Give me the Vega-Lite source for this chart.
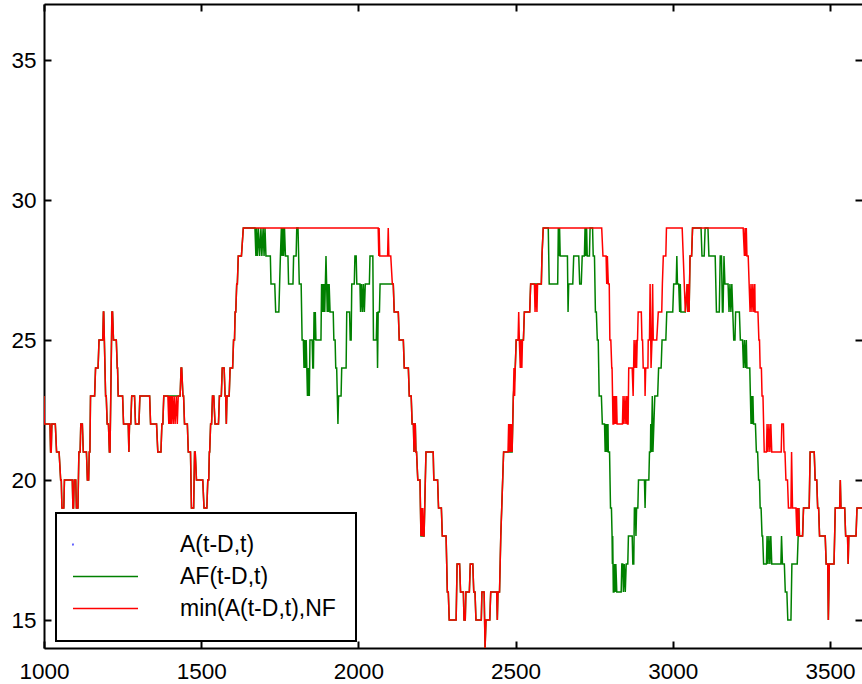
{
  "$schema": "https://vega.github.io/schema/vega-lite/v6.json",
  "width": 818,
  "height": 644,
  "autosize": {"type": "none"},
  "padding": {"left": 44, "top": 4, "right": 0, "bottom": 36},
  "config": {
    "view": {"stroke": null},
    "axis": {
      "domainColor": "black", "domainWidth": 2, "tickColor": "black", "tickWidth": 2,
      "labelColor": "black", "labelFont": "Liberation Sans", "labelFontSize": 22.5,
      "labelFlush": false, "grid": false, "title": null
    }
  },
  "datasets": {
    "red": [
{"t":1000,"v":23},{"t":1001,"v":22},{"t":1019,"v":22},{"t":1021,"v":21},{"t":1023,"v":21},{"t":1025,"v":22},{"t":1036,"v":22},{"t":1040,"v":21},{"t":1048,"v":21},{"t":1053,"v":20},{"t":1055,"v":20},{"t":1057,"v":19},{"t":1063,"v":19},{"t":1065,"v":20},{"t":1090,"v":20},{"t":1092,"v":19},{"t":1094,"v":19},{"t":1096,"v":20},{"t":1101,"v":20},{"t":1103,"v":19},{"t":1108,"v":19},{"t":1111,"v":21},{"t":1115,"v":21},{"t":1117,"v":22},{"t":1122,"v":22},{"t":1125,"v":21},{"t":1135,"v":21},{"t":1138,"v":20},{"t":1142,"v":20},{"t":1144,"v":21},{"t":1146,"v":21},{"t":1148,"v":23},{"t":1161,"v":23},{"t":1164,"v":24},{"t":1172,"v":24},{"t":1175,"v":25},{"t":1187,"v":25},{"t":1189,"v":26},{"t":1190,"v":26},{"t":1196,"v":23},{"t":1198,"v":23},{"t":1201,"v":22},{"t":1205,"v":22},{"t":1208,"v":21},{"t":1210,"v":21},{"t":1216,"v":26},{"t":1218,"v":26},{"t":1221,"v":25},{"t":1230,"v":25},{"t":1233,"v":24},{"t":1234,"v":24},{"t":1236,"v":23},{"t":1250,"v":23},{"t":1253,"v":22},{"t":1268,"v":22},{"t":1270,"v":21},{"t":1272,"v":22},{"t":1276,"v":22},{"t":1279,"v":23},{"t":1288,"v":23},{"t":1291,"v":22},{"t":1302,"v":22},{"t":1305,"v":23},{"t":1336,"v":23},{"t":1339,"v":22},{"t":1358,"v":22},{"t":1362,"v":21},{"t":1372,"v":21},{"t":1375,"v":22},{"t":1378,"v":22},{"t":1381,"v":23},{"t":1394,"v":23},{"t":1397,"v":22},{"t":1399,"v":23},{"t":1401,"v":22},{"t":1403,"v":23},{"t":1405,"v":22},{"t":1408,"v":23},{"t":1411,"v":22},{"t":1414,"v":23},{"t":1417,"v":22},{"t":1421,"v":23},{"t":1424,"v":22},{"t":1427,"v":23},{"t":1433,"v":23},{"t":1436,"v":24},{"t":1438,"v":24},{"t":1442,"v":23},{"t":1444,"v":23},{"t":1447,"v":22},{"t":1456,"v":22},{"t":1459,"v":21},{"t":1466,"v":21},{"t":1469,"v":19},{"t":1476,"v":19},{"t":1479,"v":21},{"t":1481,"v":21},{"t":1485,"v":20},{"t":1505,"v":20},{"t":1509,"v":19},{"t":1518,"v":19},{"t":1521,"v":20},{"t":1524,"v":20},{"t":1526,"v":21},{"t":1527,"v":21},{"t":1530,"v":22},{"t":1533,"v":22},{"t":1536,"v":23},{"t":1540,"v":23},{"t":1544,"v":22},{"t":1555,"v":22},{"t":1558,"v":23},{"t":1564,"v":23},{"t":1567,"v":24},{"t":1573,"v":24},{"t":1576,"v":23},{"t":1578,"v":23},{"t":1580,"v":22},{"t":1582,"v":23},{"t":1589,"v":23},{"t":1592,"v":24},{"t":1600,"v":24},{"t":1603,"v":25},{"t":1606,"v":25},{"t":1608,"v":26},{"t":1610,"v":26},{"t":1613,"v":27},{"t":1615,"v":27},{"t":1618,"v":28},{"t":1628,"v":28},{"t":1634,"v":29},
{"t":2063,"v":29},{"t":2065,"v":28},{"t":2066,"v":29},{"t":2068,"v":28},{"t":2093,"v":28},{"t":2095,"v":29},{"t":2097,"v":28},{"t":2103,"v":28},{"t":2108,"v":27},
{"t":2111,"v":27},{"t":2114,"v":26},{"t":2127,"v":26},{"t":2130,"v":25},{"t":2143,"v":25},{"t":2146,"v":24},{"t":2159,"v":24},{"t":2162,"v":23},{"t":2168,"v":23},{"t":2171,"v":22},{"t":2175,"v":22},{"t":2177,"v":21},{"t":2179,"v":22},{"t":2181,"v":22},{"t":2183,"v":21},{"t":2185,"v":21},{"t":2189,"v":20},{"t":2196,"v":20},{"t":2199,"v":18},{"t":2201,"v":19},{"t":2203,"v":18},{"t":2205,"v":19},{"t":2207,"v":18},{"t":2209,"v":18},{"t":2215,"v":21},{"t":2238,"v":21},{"t":2240,"v":20},{"t":2252,"v":20},{"t":2255,"v":19},{"t":2264,"v":19},{"t":2267,"v":18},{"t":2279,"v":18},{"t":2283,"v":16},{"t":2286,"v":16},{"t":2289,"v":15},{"t":2311,"v":15},{"t":2314,"v":17},{"t":2322,"v":17},{"t":2325,"v":16},{"t":2334,"v":16},{"t":2336,"v":15},{"t":2340,"v":15},{"t":2342,"v":16},{"t":2353,"v":16},{"t":2356,"v":17},{"t":2364,"v":17},{"t":2367,"v":16},{"t":2371,"v":16},{"t":2374,"v":15},{"t":2391,"v":15},{"t":2393,"v":16},{"t":2400,"v":16},{"t":2403,"v":14},{"t":2406,"v":15},{"t":2418,"v":15},{"t":2421,"v":16},{"t":2440,"v":16},{"t":2442,"v":15},{"t":2444,"v":16},{"t":2449,"v":16},{"t":2453,"v":18},{"t":2462,"v":21},{"t":2476,"v":21},{"t":2478,"v":22},{"t":2480,"v":21},{"t":2482,"v":22},{"t":2484,"v":21},{"t":2486,"v":22},{"t":2489,"v":21},{"t":2493,"v":23},{"t":2495,"v":24},{"t":2497,"v":23},{"t":2499,"v":24},{"t":2502,"v":25},{"t":2508,"v":25},{"t":2510,"v":26},{"t":2512,"v":25},{"t":2515,"v":24},{"t":2517,"v":25},{"t":2520,"v":24},{"t":2522,"v":25},{"t":2525,"v":25},{"t":2528,"v":26},{"t":2545,"v":26},{"t":2548,"v":27},{"t":2560,"v":27},{"t":2562,"v":26},{"t":2565,"v":27},{"t":2568,"v":26},{"t":2570,"v":27},{"t":2582,"v":27},{"t":2584,"v":28},{"t":2588,"v":29},
{"t":2774,"v":29},{"t":2778,"v":28},{"t":2788,"v":28},{"t":2790,"v":27},{"t":2792,"v":28},{"t":2795,"v":27},{"t":2798,"v":27},{"t":2800,"v":25},{"t":2803,"v":25},{"t":2806,"v":24},{"t":2807,"v":24},{"t":2810,"v":22},{"t":2812,"v":22},{"t":2813,"v":23},{"t":2815,"v":22},{"t":2817,"v":23},{"t":2819,"v":22},{"t":2821,"v":23},{"t":2823,"v":22},{"t":2840,"v":22},{"t":2842,"v":23},{"t":2845,"v":22},{"t":2848,"v":23},{"t":2851,"v":22},{"t":2854,"v":23},{"t":2856,"v":22},{"t":2858,"v":22},{"t":2860,"v":24},{"t":2871,"v":24},{"t":2874,"v":23},{"t":2877,"v":25},{"t":2880,"v":24},{"t":2883,"v":25},{"t":2885,"v":24},{"t":2887,"v":25},{"t":2888,"v":25},{"t":2890,"v":26},{"t":2900,"v":26},{"t":2902,"v":25},{"t":2904,"v":25},{"t":2906,"v":24},{"t":2911,"v":24},{"t":2912,"v":23},{"t":2914,"v":24},{"t":2921,"v":24},{"t":2922,"v":25},{"t":2926,"v":25},{"t":2928,"v":27},{"t":2931,"v":24},{"t":2934,"v":25},{"t":2936,"v":27},{"t":2938,"v":25},{"t":2949,"v":25},{"t":2954,"v":26},{"t":2965,"v":26},{"t":2967,"v":27},{"t":2970,"v":28},{"t":2978,"v":28},{"t":2980,"v":29},{"t":3030,"v":29},{"t":3040,"v":26},
{"t":3046,"v":27},{"t":3048,"v":26},{"t":3050,"v":27},{"t":3052,"v":26},{"t":3055,"v":28},{"t":3060,"v":28},{"t":3063,"v":29},
{"t":3224,"v":29},{"t":3228,"v":28},{"t":3230,"v":29},{"t":3232,"v":28},{"t":3234,"v":29},{"t":3236,"v":28},{"t":3240,"v":28},{"t":3243,"v":27},{"t":3246,"v":26},{"t":3249,"v":27},{"t":3252,"v":26},{"t":3255,"v":27},{"t":3258,"v":26},{"t":3261,"v":27},{"t":3262,"v":26},{"t":3271,"v":26},{"t":3274,"v":25},{"t":3276,"v":25},{"t":3278,"v":24},{"t":3282,"v":24},{"t":3284,"v":23},{"t":3287,"v":23},{"t":3289,"v":22},{"t":3291,"v":21},{"t":3298,"v":21},{"t":3300,"v":22},{"t":3303,"v":21},{"t":3306,"v":22},{"t":3309,"v":21},{"t":3312,"v":22},{"t":3315,"v":21},{"t":3345,"v":21},{"t":3347,"v":22},{"t":3352,"v":22},{"t":3354,"v":21},{"t":3357,"v":21},{"t":3360,"v":20},{"t":3365,"v":20},{"t":3368,"v":19},{"t":3376,"v":19},{"t":3378,"v":21},{"t":3381,"v":19},{"t":3392,"v":19},{"t":3395,"v":18},{"t":3397,"v":19},{"t":3399,"v":18},
{"t":3401,"v":19},{"t":3403,"v":18},{"t":3413,"v":18},{"t":3416,"v":19},{"t":3434,"v":19},{"t":3437,"v":21},{"t":3450,"v":21},{"t":3453,"v":20},{"t":3458,"v":20},{"t":3461,"v":19},{"t":3464,"v":19},{"t":3467,"v":18},{"t":3485,"v":18},{"t":3488,"v":17},{"t":3493,"v":17},{"t":3495,"v":15},{"t":3498,"v":17},{"t":3513,"v":17},{"t":3517,"v":19},{"t":3531,"v":19},{"t":3533,"v":20},{"t":3535,"v":19},{"t":3547,"v":19},{"t":3550,"v":18},{"t":3556,"v":18},{"t":3558,"v":17},{"t":3560,"v":18},{"t":3583,"v":18},{"t":3586,"v":19},{"t":3605,"v":19}
    ],
    "green": [
{"t":1000,"v":23},{"t":1001,"v":22},{"t":1019,"v":22},{"t":1021,"v":21},{"t":1023,"v":21},{"t":1025,"v":22},{"t":1036,"v":22},{"t":1040,"v":21},{"t":1048,"v":21},{"t":1053,"v":20},{"t":1055,"v":20},{"t":1057,"v":19},{"t":1063,"v":19},{"t":1065,"v":20},{"t":1090,"v":20},{"t":1092,"v":19},{"t":1094,"v":19},{"t":1096,"v":20},{"t":1101,"v":20},{"t":1103,"v":19},{"t":1108,"v":19},{"t":1111,"v":21},{"t":1115,"v":21},{"t":1117,"v":22},{"t":1122,"v":22},{"t":1125,"v":21},{"t":1135,"v":21},{"t":1138,"v":20},{"t":1142,"v":20},{"t":1144,"v":21},{"t":1146,"v":21},{"t":1148,"v":23},{"t":1161,"v":23},{"t":1164,"v":24},{"t":1172,"v":24},{"t":1175,"v":25},{"t":1187,"v":25},{"t":1189,"v":26},{"t":1190,"v":26},{"t":1196,"v":23},{"t":1198,"v":23},{"t":1201,"v":22},{"t":1205,"v":22},{"t":1208,"v":21},{"t":1210,"v":21},{"t":1216,"v":26},{"t":1218,"v":26},{"t":1221,"v":25},{"t":1230,"v":25},{"t":1233,"v":24},{"t":1234,"v":24},{"t":1236,"v":23},{"t":1250,"v":23},{"t":1253,"v":22},{"t":1268,"v":22},{"t":1270,"v":21},{"t":1272,"v":22},{"t":1276,"v":22},{"t":1279,"v":23},{"t":1288,"v":23},{"t":1291,"v":22},{"t":1302,"v":22},{"t":1305,"v":23},{"t":1336,"v":23},{"t":1339,"v":22},{"t":1358,"v":22},{"t":1362,"v":21},{"t":1372,"v":21},{"t":1375,"v":22},{"t":1378,"v":22},{"t":1381,"v":23},{"t":1394,"v":23},{"t":1433,"v":23},{"t":1436,"v":24},{"t":1438,"v":24},{"t":1442,"v":23},{"t":1444,"v":23},{"t":1447,"v":22},{"t":1456,"v":22},{"t":1459,"v":21},{"t":1466,"v":21},{"t":1469,"v":19},{"t":1476,"v":19},{"t":1479,"v":21},{"t":1481,"v":21},{"t":1485,"v":20},{"t":1505,"v":20},{"t":1509,"v":19},{"t":1518,"v":19},{"t":1521,"v":20},{"t":1524,"v":20},{"t":1526,"v":21},{"t":1527,"v":21},{"t":1530,"v":22},{"t":1533,"v":22},{"t":1536,"v":23},{"t":1540,"v":23},{"t":1544,"v":22},{"t":1555,"v":22},{"t":1558,"v":23},{"t":1564,"v":23},{"t":1567,"v":24},{"t":1573,"v":24},{"t":1576,"v":23},{"t":1578,"v":23},{"t":1580,"v":22},{"t":1582,"v":23},{"t":1589,"v":23},{"t":1592,"v":24},{"t":1600,"v":24},{"t":1603,"v":25},{"t":1606,"v":25},{"t":1608,"v":26},{"t":1610,"v":26},{"t":1613,"v":27},{"t":1615,"v":27},{"t":1618,"v":28},{"t":1628,"v":28},{"t":1634,"v":29},
{"t":1671,"v":29},{"t":1674,"v":28},{"t":1676,"v":29},{"t":1679,"v":28},{"t":1682,"v":29},{"t":1686,"v":28},{"t":1690,"v":29},{"t":1693,"v":28},{"t":1697,"v":29},{"t":1700,"v":28},{"t":1703,"v":29},{"t":1706,"v":28},{"t":1720,"v":28},{"t":1722,"v":27},{"t":1734,"v":27},{"t":1737,"v":26},{"t":1747,"v":26},{"t":1752,"v":28},{"t":1755,"v":29},{"t":1757,"v":28},{"t":1760,"v":29},{"t":1762,"v":28},{"t":1765,"v":29},{"t":1768,"v":28},{"t":1776,"v":28},{"t":1778,"v":27},{"t":1792,"v":27},{"t":1794,"v":28},{"t":1802,"v":28},{"t":1804,"v":29},{"t":1808,"v":29},{"t":1810,"v":28},{"t":1812,"v":27},{"t":1818,"v":27},{"t":1821,"v":25},{"t":1825,"v":25},{"t":1827,"v":24},{"t":1829,"v":25},{"t":1831,"v":24},{"t":1834,"v":25},{"t":1836,"v":24},{"t":1838,"v":23},{"t":1839,"v":24},{"t":1840,"v":23},{"t":1841,"v":24},{"t":1842,"v":23},{"t":1843,"v":24},{"t":1844,"v":23},{"t":1846,"v":25},{"t":1853,"v":25},{"t":1855,"v":24},{"t":1857,"v":24},{"t":1859,"v":26},{"t":1861,"v":25},{"t":1863,"v":26},{"t":1865,"v":25},{"t":1867,"v":25},{"t":1881,"v":25},{"t":1883,"v":27},{"t":1885,"v":26},{"t":1887,"v":27},{"t":1889,"v":26},{"t":1891,"v":27},{"t":1893,"v":26},{"t":1895,"v":27},{"t":1897,"v":28},{"t":1899,"v":27},{"t":1901,"v":26},{"t":1903,"v":27},{"t":1905,"v":26},{"t":1907,"v":27},{"t":1910,"v":26},{"t":1920,"v":26},{"t":1922,"v":25},{"t":1926,"v":25},{"t":1928,"v":24},{"t":1931,"v":24},{"t":1933,"v":23},{"t":1935,"v":22},{"t":1937,"v":23},{"t":1945,"v":23},{"t":1947,"v":24},{"t":1961,"v":24},{"t":1963,"v":26},{"t":1972,"v":26},{"t":1974,"v":25},{"t":1977,"v":25},{"t":1979,"v":27},{"t":1987,"v":27},{"t":1989,"v":28},{"t":1993,"v":28},{"t":1995,"v":27},{"t":2005,"v":27},{"t":2007,"v":26},{"t":2010,"v":27},{"t":2013,"v":26},{"t":2016,"v":27},{"t":2019,"v":26},{"t":2022,"v":27},{"t":2035,"v":27},{"t":2037,"v":28},{"t":2046,"v":28},{"t":2048,"v":25},{"t":2057,"v":25},{"t":2059,"v":26},{"t":2061,"v":24},{"t":2063,"v":26},{"t":2067,"v":26},{"t":2069,"v":27},{"t":2106,"v":27},{"t":2108,"v":27},
{"t":2111,"v":27},{"t":2114,"v":26},{"t":2127,"v":26},{"t":2130,"v":25},{"t":2143,"v":25},{"t":2146,"v":24},{"t":2159,"v":24},{"t":2162,"v":23},{"t":2168,"v":23},{"t":2171,"v":22},{"t":2175,"v":22},{"t":2177,"v":21},{"t":2179,"v":22},{"t":2181,"v":22},{"t":2183,"v":21},{"t":2185,"v":21},{"t":2189,"v":20},{"t":2196,"v":20},{"t":2199,"v":18},{"t":2209,"v":18},{"t":2215,"v":21},{"t":2238,"v":21},{"t":2240,"v":20},{"t":2252,"v":20},{"t":2255,"v":19},{"t":2264,"v":19},{"t":2267,"v":18},{"t":2279,"v":18},{"t":2283,"v":16},{"t":2286,"v":16},{"t":2289,"v":15},{"t":2311,"v":15},{"t":2314,"v":17},{"t":2322,"v":17},{"t":2325,"v":16},{"t":2334,"v":16},{"t":2336,"v":15},{"t":2340,"v":15},{"t":2342,"v":16},{"t":2353,"v":16},{"t":2356,"v":17},{"t":2364,"v":17},{"t":2367,"v":16},{"t":2371,"v":16},{"t":2374,"v":15},{"t":2391,"v":15},{"t":2393,"v":16},{"t":2400,"v":16},{"t":2403,"v":14},{"t":2406,"v":15},{"t":2418,"v":15},{"t":2421,"v":16},{"t":2440,"v":16},{"t":2442,"v":15},{"t":2444,"v":16},{"t":2449,"v":16},{"t":2453,"v":18},{"t":2462,"v":21},{"t":2476,"v":21},{"t":2489,"v":21},{"t":2493,"v":23},{"t":2499,"v":24},{"t":2502,"v":25},{"t":2508,"v":25},{"t":2525,"v":25},{"t":2528,"v":26},{"t":2545,"v":26},{"t":2548,"v":27},{"t":2582,"v":27},{"t":2584,"v":28},{"t":2588,"v":29},{"t":2604,"v":29},
{"t":2607,"v":27},{"t":2634,"v":27},{"t":2636,"v":29},{"t":2638,"v":28},{"t":2640,"v":29},{"t":2642,"v":28},{"t":2665,"v":28},{"t":2667,"v":26},{"t":2669,"v":27},{"t":2682,"v":27},{"t":2685,"v":28},{"t":2701,"v":28},{"t":2704,"v":27},{"t":2709,"v":27},{"t":2712,"v":28},{"t":2719,"v":28},{"t":2721,"v":29},{"t":2723,"v":28},{"t":2726,"v":29},{"t":2728,"v":28},{"t":2735,"v":28},{"t":2737,"v":29},{"t":2745,"v":29},{"t":2747,"v":28},{"t":2751,"v":28},{"t":2754,"v":26},{"t":2757,"v":26},{"t":2760,"v":25},{"t":2763,"v":25},{"t":2766,"v":23},{"t":2773,"v":23},{"t":2776,"v":22},{"t":2783,"v":22},{"t":2785,"v":21},{"t":2786,"v":22},{"t":2788,"v":21},{"t":2790,"v":22},{"t":2792,"v":21},{"t":2794,"v":22},{"t":2795,"v":21},{"t":2799,"v":21},{"t":2802,"v":19},{"t":2805,"v":19},{"t":2807,"v":18},{"t":2808,"v":17},{"t":2809,"v":18},{"t":2811,"v":16},{"t":2813,"v":16},{"t":2815,"v":17},{"t":2817,"v":16},{"t":2819,"v":17},{"t":2822,"v":16},{"t":2836,"v":16},{"t":2838,"v":17},{"t":2841,"v":17},{"t":2843,"v":16},{"t":2846,"v":17},{"t":2849,"v":16},{"t":2852,"v":17},{"t":2857,"v":17},{"t":2859,"v":18},{"t":2871,"v":18},{"t":2873,"v":17},{"t":2876,"v":17},{"t":2878,"v":19},{"t":2881,"v":19},{"t":2883,"v":18},{"t":2885,"v":19},{"t":2889,"v":19},{"t":2891,"v":20},{"t":2910,"v":20},{"t":2912,"v":19},{"t":2914,"v":20},{"t":2924,"v":20},{"t":2926,"v":21},{"t":2929,"v":21},{"t":2930,"v":22},{"t":2932,"v":21},{"t":2935,"v":23},{"t":2937,"v":21},{"t":2940,"v":22},{"t":2943,"v":23},{"t":2952,"v":23},{"t":2955,"v":24},{"t":2963,"v":24},{"t":2966,"v":25},{"t":2978,"v":25},{"t":2981,"v":26},{"t":3000,"v":26},{"t":3003,"v":27},{"t":3011,"v":27},{"t":3013,"v":28},{"t":3015,"v":27},{"t":3019,"v":27},{"t":3022,"v":26},{"t":3024,"v":27},{"t":3026,"v":26},{"t":3040,"v":26},
{"t":3046,"v":27},{"t":3048,"v":26},{"t":3050,"v":27},{"t":3052,"v":26},{"t":3055,"v":28},{"t":3060,"v":28},{"t":3063,"v":29},
{"t":3090,"v":29},{"t":3093,"v":28},{"t":3100,"v":28},{"t":3103,"v":29},{"t":3112,"v":29},{"t":3115,"v":28},{"t":3135,"v":28},{"t":3139,"v":26},{"t":3148,"v":26},{"t":3151,"v":28},{"t":3155,"v":28},{"t":3158,"v":26},{"t":3160,"v":26},{"t":3163,"v":28},{"t":3166,"v":27},{"t":3176,"v":27},{"t":3179,"v":26},{"t":3182,"v":27},{"t":3185,"v":26},{"t":3188,"v":27},{"t":3191,"v":26},{"t":3194,"v":25},{"t":3198,"v":25},{"t":3200,"v":26},{"t":3212,"v":26},{"t":3215,"v":25},{"t":3222,"v":25},{"t":3225,"v":24},{"t":3228,"v":25},{"t":3231,"v":24},{"t":3234,"v":25},{"t":3236,"v":24},{"t":3245,"v":24},{"t":3247,"v":23},{"t":3249,"v":22},{"t":3251,"v":23},{"t":3253,"v":22},{"t":3255,"v":23},{"t":3257,"v":22},{"t":3263,"v":22},{"t":3266,"v":21},{"t":3270,"v":21},{"t":3273,"v":20},{"t":3276,"v":20},{"t":3278,"v":19},{"t":3281,"v":19},{"t":3284,"v":18},{"t":3286,"v":18},{"t":3289,"v":17},{"t":3298,"v":17},{"t":3300,"v":18},{"t":3303,"v":17},{"t":3306,"v":18},{"t":3309,"v":17},{"t":3312,"v":18},{"t":3315,"v":17},{"t":3344,"v":17},{"t":3346,"v":18},{"t":3349,"v":17},{"t":3355,"v":17},{"t":3358,"v":16},{"t":3363,"v":16},{"t":3366,"v":15},{"t":3376,"v":15},{"t":3379,"v":17},{"t":3396,"v":17},{"t":3399,"v":18},
{"t":3401,"v":19},{"t":3403,"v":18},{"t":3413,"v":18},{"t":3416,"v":19},{"t":3434,"v":19},{"t":3437,"v":21},{"t":3450,"v":21},{"t":3453,"v":20},{"t":3458,"v":20},{"t":3461,"v":19},{"t":3464,"v":19},{"t":3467,"v":18},{"t":3485,"v":18},{"t":3488,"v":17},{"t":3493,"v":17},{"t":3495,"v":15},{"t":3498,"v":17},{"t":3513,"v":17},{"t":3517,"v":19},{"t":3531,"v":19},{"t":3533,"v":20},{"t":3535,"v":19},{"t":3547,"v":19},{"t":3550,"v":18},{"t":3556,"v":18},{"t":3558,"v":17},{"t":3560,"v":18},{"t":3583,"v":18},{"t":3586,"v":19},{"t":3605,"v":19}
    ]
  },
  "layer": [
    {
      "data": {"name": "green"},
      "mark": {"type": "line", "strokeWidth": 1.5, "clip": true},
      "encoding": {
        "x": {"field": "t", "type": "quantitative", "scale": {"domain": [1000, 3602], "nice": false, "zero": false},
              "axis": {"orient": "bottom", "values": [1000, 1500, 2000, 2500, 3000, 3500], "format": "d", "tickSize": -7, "labelPadding": 19}},
        "y": {"field": "v", "type": "quantitative", "scale": {"domain": [14, 37], "nice": false, "zero": false},
              "axis": {"orient": "left", "values": [15, 20, 25, 30, 35], "tickSize": -7, "labelPadding": 15}},
        "color": {
          "datum": "AF(t-D,t)", "type": "nominal",
          "scale": {"domain": ["A(t-D,t)", "AF(t-D,t)", "min(A(t-D,t),NF"], "range": ["#0000ff", "#008000", "#ff0000"]},
          "legend": {
            "title": null, "orient": "none", "legendX": 12, "legendY": 509, "direction": "vertical",
            "fillColor": "white", "strokeColor": "black", "padding": 20,
            "symbolType": "stroke", "symbolSize": 100, "symbolStrokeWidth": 1.5, "symbolOffset": 18,
            "labelOffset": 63, "labelFontSize": 23, "labelFont": "Liberation Sans", "labelColor": "black", "labelLimit": 400,
            "rowPadding": 8,
            "encode": {
              "legend": {"update": {"strokeWidth": {"value": 2}}},
              "symbols": {"update": {
                "shape": {"signal": "datum.value === 'A(t-D,t)' ? 'M-6.55,0a0.05,0.05 0 1,0 0.1,0a0.05,0.05 0 1,0 -0.1,0' : 'M-6.5,0H6.5'"}
              }}
            }
          }
        }
      }
    },
    {
      "data": {"name": "red"},
      "mark": {"type": "line", "strokeWidth": 1.5, "clip": true},
      "encoding": {
        "x": {"field": "t", "type": "quantitative",
              "axis": {"orient": "top", "values": [1000, 1500, 2000, 2500, 3000, 3500], "labels": false, "tickSize": -7}},
        "y": {"field": "v", "type": "quantitative",
              "axis": {"orient": "right", "values": [15, 20, 25, 30, 35], "labels": false, "domain": false, "tickSize": -7}},
        "color": {"datum": "min(A(t-D,t),NF", "type": "nominal"}
      }
    }
  ],
  "resolve": {"axis": {"x": "independent", "y": "independent"}}
}
